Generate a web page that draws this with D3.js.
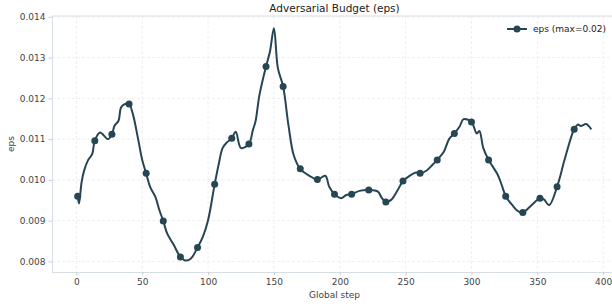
<!DOCTYPE html>
<html>
<head>
<meta charset="utf-8">
<script src="https://cdn.jsdelivr.net/npm/d3@7"></script>
<style>
  body { margin: 0; background: #fff; }
  svg { display: block; font-family: "DejaVu Sans", sans-serif; }
</style>
</head>
<body>
<svg width="612" height="307"></svg>
<script>
// values
const steps = [1, 2, 4, 6, 9, 12, 14, 18, 24, 27, 29, 32, 34, 37, 40, 43, 47, 50, 53, 56, 60, 63, 66, 69, 74, 79, 83, 87, 92, 96, 100,
  105, 108, 111, 114, 118, 121, 125, 131, 134, 136, 139, 144, 147, 150, 153, 157, 161, 165, 170, 177, 183, 189, 192, 196, 201,
  205, 209, 215, 222, 229, 232, 235, 239, 244, 248, 253, 258, 261, 266, 271, 274, 279, 283, 287, 291, 294, 300, 304, 306, 309,
  313, 320, 323, 326, 331, 335, 339, 345, 352, 355, 359, 365, 371, 378, 381, 383, 387, 391];
const eps = [0.00960, 0.00942, 0.00995, 0.01024, 0.01049, 0.01063, 0.01096, 0.01116, 0.01100, 0.01112, 0.01133, 0.01145, 0.01178,
  0.01186, 0.01186, 0.01160, 0.01098, 0.01049, 0.01016, 0.00983, 0.00958, 0.00926, 0.00899, 0.00868, 0.00840, 0.00811, 0.00802,
  0.00807, 0.00834, 0.00860, 0.00901, 0.00989, 0.01037, 0.01078, 0.01091, 0.01102, 0.01118, 0.01078, 0.01088, 0.01122, 0.01143,
  0.01208, 0.01278, 0.01315, 0.01372, 0.01274, 0.01229, 0.01135, 0.01061, 0.01027, 0.01010, 0.01001, 0.01010, 0.00983, 0.00965,
  0.00955, 0.00963, 0.00965, 0.00973, 0.00975, 0.00971, 0.00955, 0.00946, 0.00951, 0.00975, 0.00997, 0.01010, 0.01018, 0.01016,
  0.01023, 0.01039, 0.01049, 0.01069, 0.01100, 0.01114, 0.01131, 0.01149, 0.01142, 0.01114, 0.01120, 0.01078, 0.01049, 0.01012,
  0.00987, 0.00960, 0.00938, 0.00924, 0.00920, 0.00936, 0.00955, 0.00952, 0.00938, 0.00983, 0.01053, 0.01124, 0.01136, 0.01132,
  0.01137, 0.01124];
const markerSteps = [1, 14, 27, 40, 53, 66, 79, 92, 105, 118, 131, 144, 157, 170, 183, 196, 209, 222, 235, 248, 261, 274, 287,
  300, 313, 326, 339, 352, 365, 378];
const xTicks = [0, 50, 100, 150, 200, 250, 300, 350, 400];
const yTicks = [0.008, 0.009, 0.010, 0.011, 0.012, 0.013, 0.014];

const data = steps.map((s, i) => ({step: s, eps: eps[i]}));
const marks = data.filter(d => markerSteps.includes(d.step));

const margin = {top: 16, right: -5, bottom: 35, left: 52};
const width = 612 - margin.left - margin.right;
const height = 307 - margin.top - margin.bottom;
const lineColor = "#264653";

const svg = d3.select("svg");
const g = svg.append("g").attr("transform", `translate(${margin.left},${margin.top})`);

const x = d3.scaleLinear().domain([-18.5, 410.5]).range([0, width]);
const y = d3.scaleLinear().domain([0.00774, 0.01402]).range([height, 0]);

// grid
g.append("g").selectAll("line").data(xTicks).join("line")
  .attr("x1", d => x(d)).attr("x2", d => x(d)).attr("y1", 0).attr("y2", height)
  .attr("stroke", "#ebebeb").attr("stroke-width", 0.8).attr("stroke-dasharray", "3,2");
g.append("g").selectAll("line").data(yTicks).join("line")
  .attr("x1", 0).attr("x2", width).attr("y1", d => y(d)).attr("y2", d => y(d))
  .attr("stroke", "#ebebeb").attr("stroke-width", 0.8).attr("stroke-dasharray", "3,2");

// axes
const xAxis = g.append("g").attr("transform", `translate(0,${height})`)
  .call(d3.axisBottom(x).tickValues(xTicks).tickFormat(d3.format("d")).tickSizeInner(3.5).tickSizeOuter(0).tickPadding(3));
const yAxis = g.append("g")
  .call(d3.axisLeft(y).tickValues(yTicks).tickFormat(d3.format(".3f")).tickSizeInner(3.5).tickSizeOuter(0).tickPadding(3));
[xAxis, yAxis].forEach(a => {
  a.select(".domain").attr("stroke", "#d6dde5");
  a.selectAll(".tick line").attr("stroke", "#c8cfd8");
  a.selectAll(".tick text").attr("fill", "#444").style("font-size", "9px").style("font-family", "DejaVu Sans");
});
// top spine
g.append("line").attr("x1", 0).attr("x2", width).attr("y1", 0).attr("y2", 0).attr("stroke", "#d6dde5");

// line + markers
const line = d3.line().x(d => x(d.step)).y(d => y(d.eps)).curve(d3.curveCatmullRom.alpha(0.5));
g.append("path").datum(data).attr("d", line)
  .attr("fill", "none").attr("stroke", lineColor).attr("stroke-width", 2).attr("stroke-linejoin", "round");
g.selectAll(".dot").data(marks).join("circle").attr("class", "dot")
  .attr("cx", d => x(d.step)).attr("cy", d => y(d.eps)).attr("r", 3.5).attr("fill", lineColor);

// title and labels
svg.append("text").attr("x", margin.left + width / 2).attr("y", 12).attr("text-anchor", "middle")
  .style("font-size", "10.5px").attr("fill", "#222").text("Adversarial Budget (eps)");
svg.append("text").attr("x", margin.left + width / 2).attr("y", 298).attr("text-anchor", "middle")
  .style("font-size", "9px").attr("fill", "#444").text("Global step");
svg.append("text").attr("transform", `translate(14,${margin.top + height / 2}) rotate(-90)`).attr("text-anchor", "middle")
  .style("font-size", "9px").attr("fill", "#444").text("eps");

// legend
const legend = svg.append("g").attr("transform", "translate(507,29)");
legend.append("line").attr("x1", 0).attr("x2", 20).attr("stroke", lineColor).attr("stroke-width", 2);
legend.append("circle").attr("cx", 10).attr("r", 3.5).attr("fill", lineColor);
legend.append("text").attr("x", 26).attr("y", 3.2).style("font-size", "9px").attr("fill", "#222").text("eps (max=0.02)");
</script>
</body>
</html>
